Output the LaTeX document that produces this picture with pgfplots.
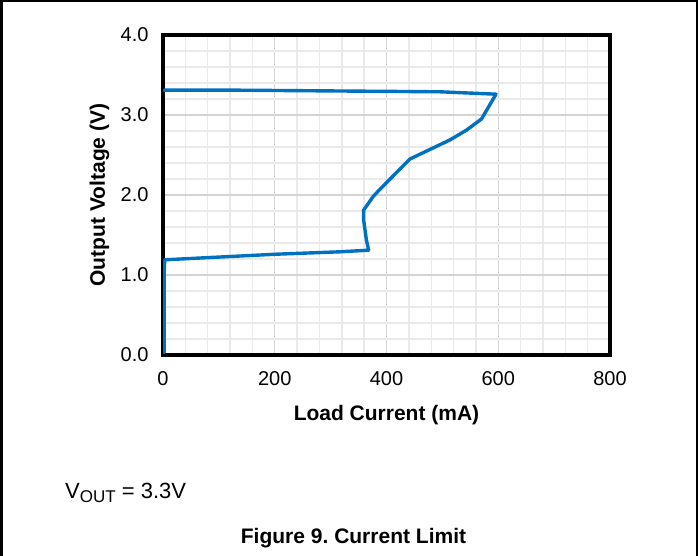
\documentclass[border=0pt]{standalone}
\usepackage{fontspec}
\setmainfont{Liberation Sans}
\usepackage{pgfplots}
\pgfplotsset{compat=1.18}
\definecolor{curveblue}{RGB}{0,112,192}
\definecolor{majgrid}{RGB}{212,212,212}
\definecolor{mingrid}{RGB}{234,234,234}
\frenchspacing
\begin{document}
\begin{tikzpicture}[x=1pt,y=1pt]
\path[use as bounding box] (0,0) rectangle (698,556);
% page frame, open at the bottom
\draw[line width=2.5pt] (1.25,0) -- (1.25,554.75) -- (696.75,554.75) -- (696.75,0);
\begin{axis}[
    at={(163pt,201pt)}, anchor=south west,
    scale only axis, width=447pt, height=320pt,
    xmin=0, xmax=800, ymin=0, ymax=4,
    xtick={0,200,...,800}, ytick={0,1,...,4},
    minor x tick num=4, minor y tick num=4,
    grid=both,
    major grid style={majgrid, line width=1.4pt},
    minor grid style={mingrid, line width=1.4pt},
    axis line style={line width=4.8pt},
    major tick length=0pt, minor tick length=0pt,
    /pgf/number format/assume math mode=true,
    tick label style={font=\fontsize{20}{24}\selectfont},
    yticklabel style={/pgf/number format/.cd, fixed, fixed zerofill, precision=1, /tikz/.cd, xshift=-11pt},
    xticklabel style={yshift=-13pt},
    label style={font=\bfseries\fontsize{21}{25}\selectfont},
    xlabel={Load Current (mA)},
    ylabel={Output Voltage (V)},
    xlabel style={at={(axis description cs:0.5,-0.206)}, anchor=base},
    ylabel style={at={(axis description cs:-0.13,0.5)}, anchor=base, rotate=0},
]
\addplot[curveblue, line width=3.4pt, line join=round, line cap=round] coordinates {
    (2,3.31) (138,3.31) (317,3.30) (496,3.29) (596,3.26)
    (570,2.95) (543,2.81) (514,2.69) (478,2.57) (442,2.45)
    (388,2.07) (376,1.98) (359,1.81) (359,1.69) (364,1.44)
    (368,1.31) (317,1.29) (203,1.26) (3,1.19) (2,1.0) (2,0.03)
};
\end{axis}
\node[anchor=base west, inner sep=0, font=\fontsize{22}{26}\selectfont] at (65,57)
    {V\raisebox{-0.3ex}{\fontsize{17}{17}\selectfont OUT} = 3.3V};
\node[anchor=base, inner sep=0, font=\bfseries\fontsize{21}{25}\selectfont] at (353.5,12)
    {Figure 9. Current Limit};
\end{tikzpicture}
\end{document}
